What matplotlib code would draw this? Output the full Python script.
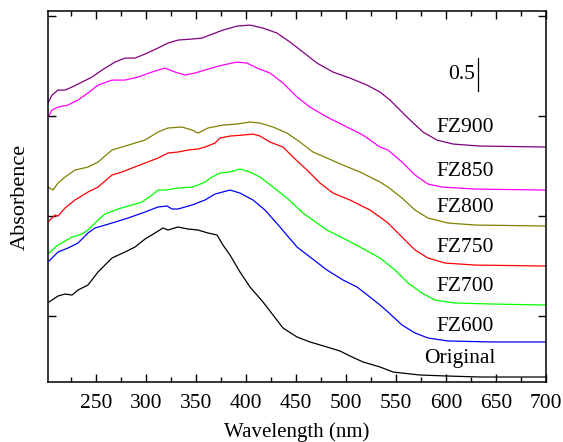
import numpy as np
import matplotlib
matplotlib.use('Agg')
import matplotlib.pyplot as plt

plt.rcParams['font.family'] = ['Liberation Serif', 'DejaVu Serif']

# wavelength (nm) and absorbance (offset, a.u.)
orig_wl = [203, 206, 212, 219, 226, 232, 242, 252, 266, 279, 289, 299, 309, 317, 322, 332, 342, 352,
           362, 371, 377, 384, 394, 404, 417, 427, 437, 451, 464, 481, 494, 504, 517, 534, 547, 574,
           601, 634, 699]
orig_a = [1.203, 1.233, 1.293, 1.323, 1.308, 1.383, 1.459, 1.654, 1.865, 1.955, 2.030, 2.150, 2.241,
          2.316, 2.286, 2.331, 2.301, 2.286, 2.241, 2.211, 2.060, 1.910, 1.654, 1.429, 1.203, 1.008,
          0.812, 0.677, 0.602, 0.526, 0.466, 0.391, 0.301, 0.226, 0.150, 0.105, 0.090, 0.075, 0.075]

fz600_wl = [203, 212, 222, 232, 242, 249, 266, 282, 299, 312, 321, 326, 332, 346, 359, 369, 384, 394,
            407, 419, 434, 451, 464, 481, 497, 511, 524, 534, 542, 556, 569, 582, 602, 646, 699]
fz600_a = [1.820, 1.955, 2.015, 2.090, 2.241, 2.316, 2.391, 2.466, 2.556, 2.632, 2.647, 2.602, 2.602,
           2.662, 2.737, 2.827, 2.887, 2.842, 2.737, 2.586, 2.331, 2.030, 1.880, 1.684, 1.534, 1.429,
           1.278, 1.158, 1.053, 0.857, 0.737, 0.662, 0.617, 0.602, 0.602]

fz700_wl = [203, 212, 226, 236, 242, 252, 259, 272, 286, 296, 306, 312, 319, 332, 346, 352, 359, 366,
            374, 384, 394, 404, 414, 427, 441, 457, 471, 481, 497, 514, 534, 549, 562, 576, 589, 609,
            646, 699]
fz700_a = [1.940, 2.060, 2.180, 2.226, 2.286, 2.436, 2.526, 2.602, 2.662, 2.707, 2.812, 2.887, 2.887,
           2.917, 2.932, 2.962, 3.008, 3.083, 3.143, 3.158, 3.203, 3.158, 3.083, 2.932, 2.767, 2.541,
           2.391, 2.286, 2.165, 2.030, 1.865, 1.684, 1.489, 1.338, 1.233, 1.188, 1.173, 1.158]

fz750_wl = [203, 209, 212, 219, 229, 242, 252, 266, 276, 286, 299, 312, 322, 332, 342, 352, 359, 369,
            374, 384, 397, 407, 414, 424, 437, 447, 461, 474, 487, 504, 524, 534, 542, 556, 569, 582,
            599, 629, 699]
fz750_a = [2.421, 2.511, 2.496, 2.617, 2.737, 2.857, 2.932, 3.113, 3.158, 3.218, 3.293, 3.368, 3.444,
           3.459, 3.489, 3.504, 3.534, 3.594, 3.669, 3.699, 3.714, 3.729, 3.699, 3.609, 3.534, 3.383,
           3.188, 2.992, 2.842, 2.737, 2.586, 2.481, 2.391, 2.180, 1.985, 1.865, 1.789, 1.759, 1.744]

fz800_wl = [202, 207, 212, 219, 229, 242, 252, 266, 276, 289, 299, 312, 322, 336, 346, 352, 362, 377,
            391, 404, 414, 427, 441, 454, 467, 481, 497, 514, 534, 542, 556, 569, 582, 602, 629, 699]
fz800_a = [2.932, 2.887, 2.992, 3.083, 3.188, 3.233, 3.308, 3.489, 3.534, 3.594, 3.639, 3.759, 3.820,
           3.835, 3.789, 3.744, 3.820, 3.865, 3.880, 3.910, 3.895, 3.835, 3.744, 3.609, 3.459, 3.368,
           3.263, 3.158, 3.008, 2.932, 2.767, 2.586, 2.466, 2.391, 2.361, 2.346]

fz850_wl = [202, 206, 212, 222, 232, 242, 252, 266, 279, 292, 306, 319, 329, 339, 349, 359, 369, 377,
            391, 401, 411, 424, 437, 451, 464, 481, 497, 517, 534, 542, 556, 569, 582, 596, 629, 699]
fz850_a = [3.985, 4.090, 4.135, 4.165, 4.241, 4.346, 4.466, 4.541, 4.541, 4.586, 4.662, 4.722, 4.662,
           4.617, 4.647, 4.692, 4.737, 4.767, 4.812, 4.797, 4.722, 4.647, 4.496, 4.286, 4.135, 3.985,
           3.865, 3.714, 3.534, 3.489, 3.308, 3.113, 2.977, 2.932, 2.902, 2.887]

fz900_wl = [202, 206, 212, 219, 226, 236, 246, 256, 269, 279, 289, 299, 312, 322, 332, 346, 356, 369,
            377, 391, 404, 417, 431, 444, 457, 471, 487, 504, 521, 534, 544, 561, 577, 591, 607, 634,
            699]
fz900_a = [4.195, 4.316, 4.391, 4.391, 4.436, 4.511, 4.586, 4.692, 4.812, 4.872, 4.872, 4.932, 5.023,
           5.098, 5.143, 5.158, 5.173, 5.248, 5.293, 5.353, 5.368, 5.323, 5.248, 5.113, 4.962, 4.797,
           4.662, 4.571, 4.466, 4.361, 4.241, 3.985, 3.759, 3.639, 3.579, 3.549, 3.534]

names = ['Original', 'FZ600', 'FZ700', 'FZ750', 'FZ800', 'FZ850', 'FZ900']
label_y = [0.36, 0.83, 1.43, 2.03, 2.62, 3.17, 3.83]
colors = ['black', '#0000ff', '#00ff00', '#ff0000', '#808000', '#ff00ff', '#800080']

curves = [(orig_wl, orig_a), (fz600_wl, fz600_a), (fz700_wl, fz700_a), (fz750_wl, fz750_a),
          (fz800_wl, fz800_a), (fz850_wl, fz850_a), (fz900_wl, fz900_a)]

fig = plt.figure(figsize=(5.63, 4.42), dpi=100)
ax = fig.add_axes([48 / 563, 60 / 442, 498 / 563, 371 / 442])

for (wl, a), c in zip(curves, colors):
    ax.plot(wl, a, color=c, lw=0.9)

for name, y in zip(names, label_y):
    ax.text(619 if name != 'Original' else 614, y, name, ha='center', va='center', fontsize=15.5)

# scale bar
ax.plot([632, 632], [4.38, 4.88], color='black', lw=0.9)
ax.text(629, 4.63, '0.5', ha='right', va='center', fontsize=15.5)

ax.set_xlim(202, 700)
ax.set_ylim(0, 5.58)
ax.set_xticks(np.arange(250, 701, 50))
ax.set_xticks(np.arange(225, 701, 50), minor=True)
ax.set_yticks([1.0, 2.5, 4.0, 5.5])
ax.set_yticklabels([])
ax.tick_params(which='both', direction='in', top=True, right=True, labelsize=15.5, width=1)
ax.tick_params(axis='x', which='both', pad=9)
ax.tick_params(which='major', length=6)
ax.tick_params(which='minor', length=3.5)
for s in ax.spines.values():
    s.set_linewidth(1.1)

ax.set_xlabel('Wavelength (nm)', fontsize=15, labelpad=6.5)
ax.set_ylabel('Absorbence', fontsize=16, labelpad=9.5)

fig.savefig('out.png', dpi=100)
